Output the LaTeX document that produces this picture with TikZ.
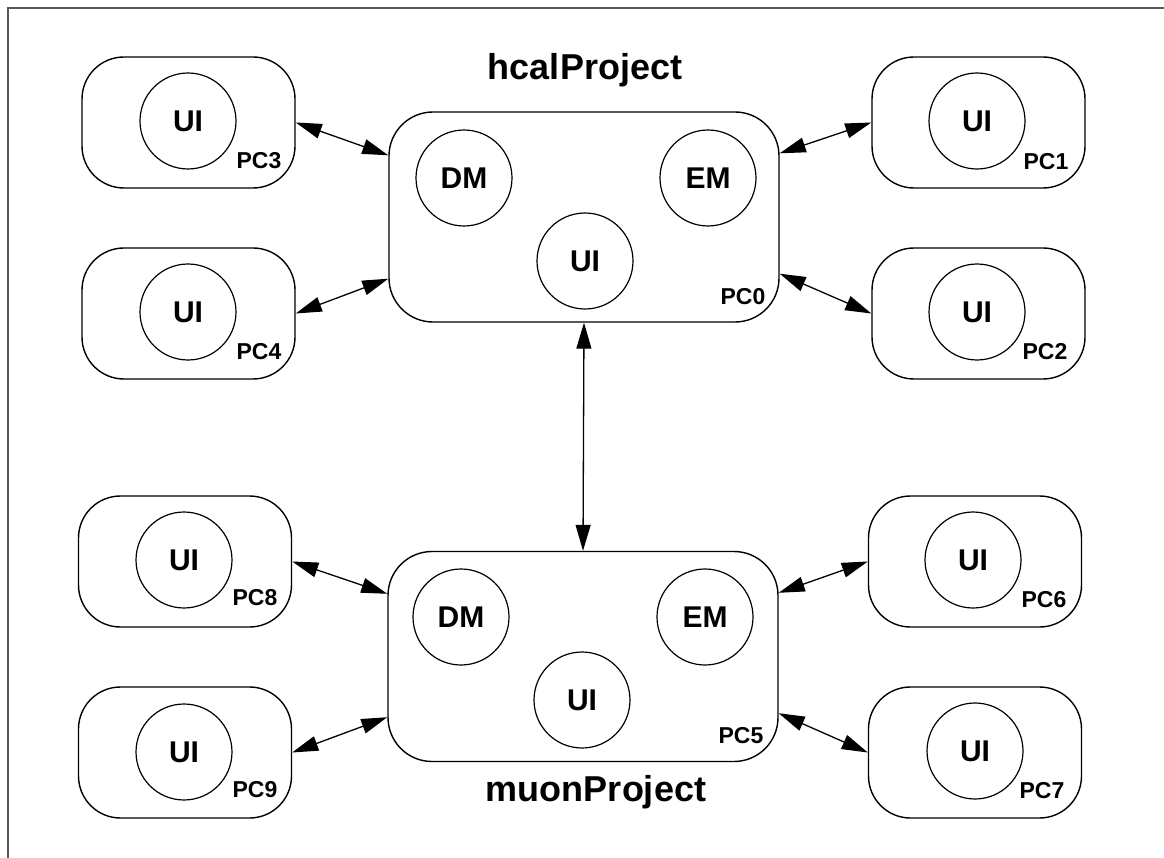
\documentclass[tikz,border=0pt]{standalone}
\usepackage{fontspec}
\setmainfont{Liberation Sans}
\usetikzlibrary{arrows.meta}
\tikzset{
  pcbox/.style={draw, line width=1.4pt, rounded corners=42pt, minimum width=213pt, minimum height=131pt, inner sep=0pt},
  mainbox/.style={draw, line width=1.4pt, rounded corners=44pt, minimum width=390pt, minimum height=210pt, inner sep=0pt},
  comp/.style={draw, circle, line width=1.2pt, minimum size=96pt, inner sep=0pt, font=\fontsize{30}{36}\selectfont\bfseries},
  lbl/.style={inner sep=0pt, font=\fontsize{23}{28}\selectfont\bfseries},
  ttl/.style={inner sep=0pt, font=\fontsize{36}{42}\selectfont\bfseries},
  arr/.style={line width=1.3pt, {Triangle[length=26pt,width=15pt]}-{Triangle[length=26pt,width=15pt]}},
  frame/.style={draw=black!65, line width=1.2pt}
}
\begin{document}
\begin{tikzpicture}[x=1pt,y=-1pt]
\useasboundingbox (0,0) rectangle (1164,858);
\draw[frame] (8,858) -- (8,8) -- (1164,8);

% upper group
\node[ttl] (t0) at (585,70) {hcalProject};
\node[mainbox] (PC0) at (584,217) {};
\node[comp] (dm0) at (464,178) {DM};
\node[comp] (em0) at (708,178) {EM};
\node[comp] (ui0) at (585,261) {UI};
\node[lbl] (l0) at (743,297) {PC0};

\node[pcbox] (PC3) at (188.5,122.5) {};
\node[comp] (u3) at (188,121) {UI};
\node[lbl] (l3) at (259,161) {PC3};
\node[pcbox] (PC4) at (188.5,313.5) {};
\node[comp] (u4) at (188,312) {UI};
\node[lbl] (l4) at (259,352) {PC4};
\node[pcbox] (PC1) at (978.5,122.5) {};
\node[comp] (u1) at (977,121) {UI};
\node[lbl] (l1) at (1046,162) {PC1};
\node[pcbox] (PC2) at (978.5,313.5) {};
\node[comp] (u2) at (977,312) {UI};
\node[lbl] (l2) at (1045,352) {PC2};

% lower group
\node[mainbox] (PC5) at (583,656.5) {};
\node[comp] (dm5) at (461,617) {DM};
\node[comp] (em5) at (705,617) {EM};
\node[comp] (ui5) at (582,700) {UI};
\node[lbl] (l5) at (741,736) {PC5};
\node[ttl] (t5) at (596,792) {muonProject};

\node[pcbox] (PC8) at (185,561.5) {};
\node[comp] (u8) at (184,560) {UI};
\node[lbl] (l8) at (255,598) {PC8};
\node[pcbox] (PC9) at (185,752.5) {};
\node[comp] (u9) at (184,752) {UI};
\node[lbl] (l9) at (255,790) {PC9};
\node[pcbox] (PC6) at (975,561.5) {};
\node[comp] (u6) at (973,560) {UI};
\node[lbl] (l6) at (1044,600) {PC6};
\node[pcbox] (PC7) at (975,752.5) {};
\node[comp] (u7) at (975,751) {UI};
\node[lbl] (l7) at (1042,791) {PC7};

% attachment points
\coordinate (a0l1) at ([yshift=-44pt]PC0.north west);
\coordinate (a0l2) at ([yshift=44pt]PC0.south west);
\coordinate (a0r1) at ([yshift=-42pt]PC0.north east);
\coordinate (a0r2) at ([yshift=49pt]PC0.south east);
\coordinate (a5l1) at ([yshift=-43pt]PC5.north west);
\coordinate (a5l2) at ([yshift=45pt]PC5.south west);
\coordinate (a5r1) at ([yshift=-42pt]PC5.north east);
\coordinate (a5r2) at ([yshift=49pt]PC5.south east);

\draw[arr] (PC3.east) -- (a0l1);
\draw[arr] (PC4.east) -- (a0l2);
\draw[arr] (a0r1) -- (PC1.west);
\draw[arr] (a0r2) -- (PC2.west);
\draw[arr] (PC0.south) -- (PC5.north);
\draw[arr] (PC8.east) -- (a5l1);
\draw[arr] (PC9.east) -- (a5l2);
\draw[arr] (a5r1) -- (PC6.west);
\draw[arr] (a5r2) -- (PC7.west);
\end{tikzpicture}
\end{document}
